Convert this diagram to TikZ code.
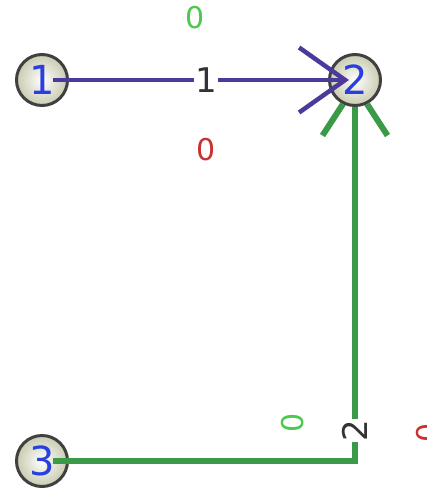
\documentclass[tikz,border=0pt]{standalone}
\usepackage{fontspec}
\setmainfont{DejaVu Sans}
\usetikzlibrary{arrows.meta}
\definecolor{edgeviolet}{HTML}{4B3A9A}
\definecolor{edgegreen}{HTML}{3A9A48}
\definecolor{lblgreen}{HTML}{4CC84C}
\definecolor{lblred}{HTML}{C83232}
\definecolor{numblue}{HTML}{2A3FE0}
\definecolor{nodefill}{HTML}{C9CBB0}
\begin{document}
\begin{tikzpicture}[x=1pt,y=-1pt,
  vertex/.style={circle,minimum size=51pt,inner sep=0pt,draw=black!75,
    line width=3pt,inner color=white,outer color=nodefill},
  vnum/.style={font=\fontsize{40}{40}\selectfont,text=numblue,inner sep=0pt},
  elabel/.style={font=\fontsize{34}{34}\selectfont,text=black!80,fill=white,inner sep=1pt},
  zero/.style={font=\fontsize{30}{30}\selectfont,inner sep=0pt},
  violetedge/.style={draw=edgeviolet,line width=4.5pt},
  greenedge/.style={draw=edgegreen,line width=6pt}]
\useasboundingbox (0,0) rectangle (427,491);

% vertices
\node[vertex] (n1) at (42,80) {};
\node[vertex] (n2) at (355,80) {};
\node[vertex] (n3) at (42,461) {};

% edge 2: from 3 up to 2, its tip hidden under vertex 2
\begin{scope}[even odd rule]
  \clip (0,0) rectangle (427,491) (n2.center) circle[radius=27pt];
  \draw[greenedge,shorten <=11pt,-{Straight Barb[length=50pt,width=65pt]}]
    (n3.center) -| (n2.center)
    node[pos=0.54,sloped,elabel] (l2) {2};
\end{scope}

% edge 1: from 1 to 2
\draw[violetedge,shorten <=11pt,shorten >=6pt,-{Straight Barb[length=46pt,width=65pt]}]
  (n1.center) -- (n2.center)
  node[pos=0.524,elabel] (l1) {1};

% vertex numbers
\node[vnum] (t1) at (n1.center) {1};
\node[vnum] (t2) at (n2.center) {2};
\node[vnum] (t3) at (n3.center) {3};

% edge annotations
\node[zero,text=lblgreen] (a1) at (195,18) {0};
\node[zero,text=lblred] (b1) at (206,150) {0};
\node[zero,text=lblgreen,rotate=90] (a2) at (293,423) {0};
\node[zero,text=lblred,rotate=90] (b2) at (428,433) {0};
\end{tikzpicture}
\end{document}
